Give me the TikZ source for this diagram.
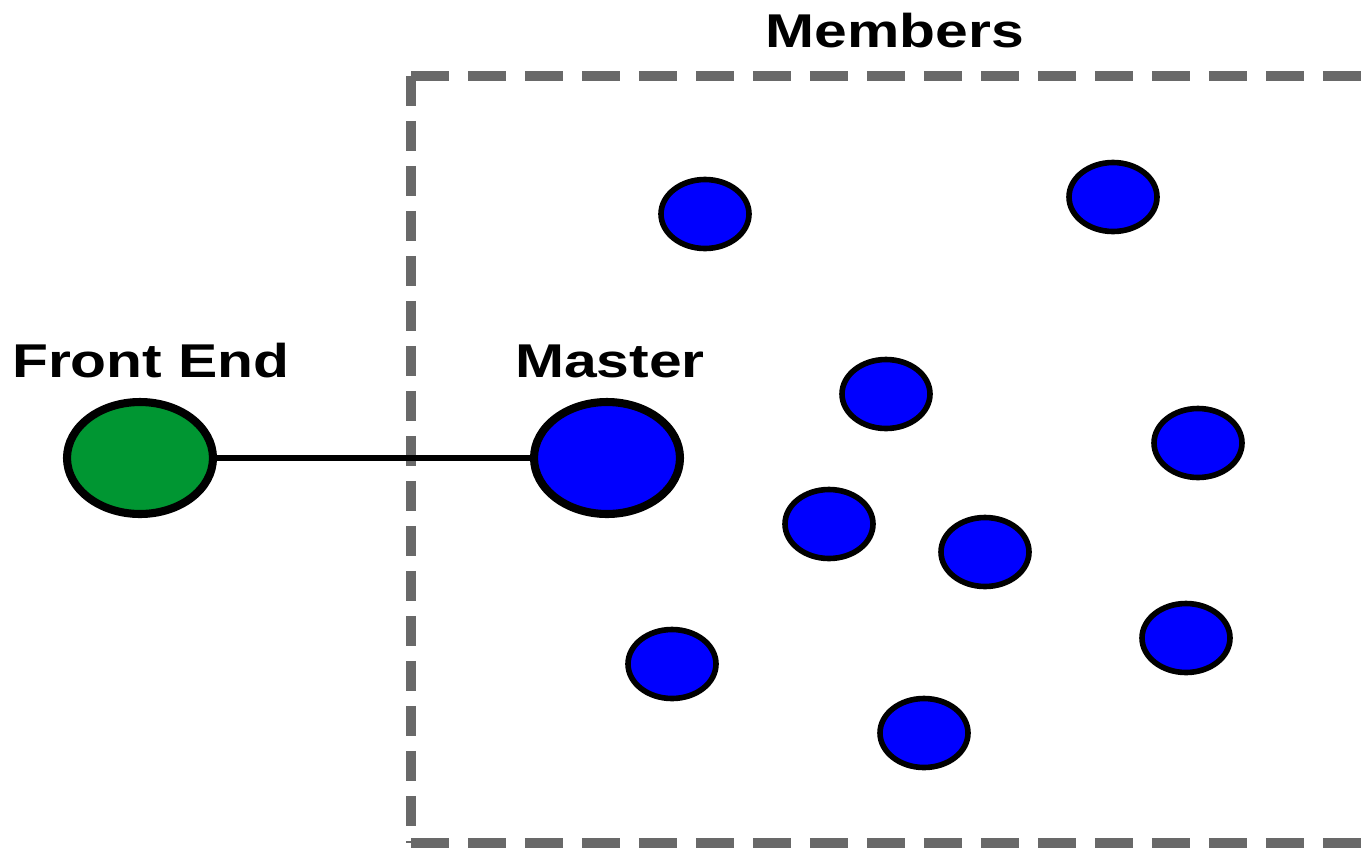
\documentclass[tikz,border=0pt]{standalone}
\usepackage{fontspec}
\setmainfont{Liberation Sans}
\usetikzlibrary{shapes.geometric}
\definecolor{frontgreen}{RGB}{0,150,50}
\definecolor{boxgray}{RGB}{105,105,105}
\tikzset{
    front node/.style = {
        draw, ellipse,
        fill = frontgreen,
        line width = 4.6pt,
        minimum width = 2.92cm,
        minimum height = 2.24cm,
        inner sep = 0pt,
        },
    master node/.style = {
        front node,
        fill = blue,
        },
    member/.style = {
        draw, ellipse,
        fill = blue,
        line width = 3.2pt,
        minimum width = 1.76cm,
        minimum height = 1.38cm,
        inner sep = 0pt,
        },
    caption/.style = {
        font = \fontsize{27}{32}\selectfont\bfseries,
        inner sep = 0pt,
        anchor = base,
        xscale = 1.24,
        },
    box h/.style = {
        draw = boxgray,
        line width = 5.7pt,
        dash pattern = on 0.76cm off 0.38cm,
        },
    box v/.style = {
        draw = boxgray,
        line width = 5.7pt,
        dash pattern = on 0.6cm off 0.3cm,
        },
    link/.style = {
        line width = 3pt,
        },
}
\begin{document}
\begin{tikzpicture}[x=0.02cm, y=-0.02cm]
    \useasboundingbox (0,0) rectangle (1369,849);

    % members box
    \coordinate (tl) at (411,76);
    \coordinate (tr) at (1374,76);
    \coordinate (bl) at (411,843);
    \coordinate (br) at (1374,843);
    \path[box h] (tl) -- (tr);
    \path[box h] (bl) -- (br);
    \path[box v] (tl) -- (bl);
    \path[box v] (tr) -- (br);
    \node[caption] (memlabel) at (895,47) {Members};

    \node[front node] (fe) at (140,458) {};
    \node[master node] (master) at (607,458) {};
    \node[caption] (felabel) at (151,377) {Front End};
    \node[caption] (mlabel) at (610,377) {Master};

    \foreach \i/\x/\y in {1/705/214, 2/1113/197, 3/886/394, 4/1198/443,
        5/829/524, 6/985/552, 7/672/664, 8/1186/638, 9/924/733}
        \node[member] (m\i) at (\x,\y) {};

    \draw[link] (fe) -- (master);
\end{tikzpicture}
\end{document}
